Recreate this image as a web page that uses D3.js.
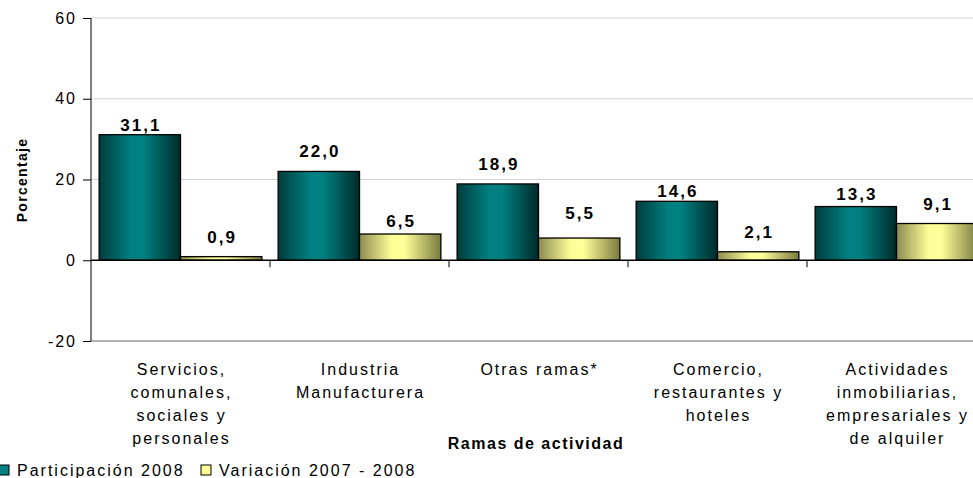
<!DOCTYPE html>
<html>
<head>
<meta charset="utf-8">
<script src="https://cdn.jsdelivr.net/npm/d3@7"></script>
<style>
  body { margin: 0; background: #fff; overflow: hidden; }
  svg { font-family: "Liberation Sans", Arial, sans-serif; }
</style>
</head>
<body>
<svg id="chart" width="973" height="478"></svg>
<script>
// categories (each label split into lines)
var categories = [
  ["Servicios,", "comunales,", "sociales y", "personales"],
  ["Industria", "Manufacturera"],
  ["Otras ramas*"],
  ["Comercio,", "restaurantes y", "hoteles"],
  ["Actividades", "inmobiliarias,", "empresariales y", "de alquiler"]
];
var participacion = [31.1, 22.0, 18.9, 14.6, 13.3];
var variacion = [0.9, 6.5, 5.5, 2.1, 9.1];
var seriesNames = ["Participación 2008", "Variación 2007 - 2008"];
var yTicks = [-20, 0, 20, 40, 60];

var svg = d3.select("#chart");
var pLeft = 91, pTop = 18, pBottom = 341, pRight = 986;
var ls = 2; // letter spacing used by the original renderer

var x = d3.scaleBand().domain(d3.range(categories.length)).range([pLeft, pRight]);
var xs = d3.scaleBand().domain([0, 1]).range([0, x.bandwidth()]).paddingOuter(0.1);
var y = d3.scaleLinear().domain([-20, 60]).range([pBottom, pTop]);

// gradients
var defs = svg.append("defs");
function grad(id, edge, mid, edge2) {
  var g = defs.append("linearGradient").attr("id", id).attr("x1", 0).attr("x2", 1).attr("y1", 0).attr("y2", 0);
  g.append("stop").attr("offset", "0%").attr("stop-color", edge);
  g.append("stop").attr("offset", "40%").attr("stop-color", mid);
  g.append("stop").attr("offset", "55%").attr("stop-color", mid);
  g.append("stop").attr("offset", "100%").attr("stop-color", edge2);
}
grad("gTeal", "#003d3d", "#008080", "#002a2a");
grad("gYellow", "#8c8c50", "#ffff99", "#7a7a40");

// grid lines
svg.append("g").selectAll("line").data(yTicks.filter(function(d){ return d !== 0; }))
  .enter().append("line")
  .attr("x1", pLeft).attr("x2", pRight)
  .attr("y1", function(d){ return y(d); }).attr("y2", function(d){ return y(d); })
  .attr("stroke", function(d){ return d === -20 ? "#9a9a9a" : "#d4d4d4"; })
  .attr("stroke-width", function(d){ return d === -20 ? 1.5 : 1; });

// bars
var data = [];
participacion.forEach(function(v, i){
  data.push({cat: i, s: 0, v: v});
  data.push({cat: i, s: 1, v: variacion[i]});
});
svg.append("g").selectAll("rect").data(data).enter().append("rect")
  .attr("x", function(d){ return x(d.cat) + xs(d.s); })
  .attr("width", xs.bandwidth())
  .attr("y", function(d){ return y(Math.max(0, d.v)); })
  .attr("height", function(d){ return Math.abs(y(d.v) - y(0)); })
  .attr("fill", function(d){ return d.s === 0 ? "url(#gTeal)" : "url(#gYellow)"; })
  .attr("stroke", "#000").attr("stroke-width", 1.3);

// value labels (gap above bar in px, as placed in the original)
var labelGap = [[4, 14, 14, 4, 7], [14, 7, 19, 14, 14]];
var fmt = function(v){ return v.toFixed(1).replace(".", ","); };
svg.append("g").selectAll("text").data(data).enter().append("text")
  .attr("x", function(d){ return x(d.cat) + xs(d.s) + xs.bandwidth() / 2 + 1; })
  .attr("y", function(d){ return y(d.v) - labelGap[d.s][d.cat]; })
  .attr("text-anchor", "middle")
  .attr("font-size", 17).attr("font-weight", "bold").attr("letter-spacing", 2)
  .text(function(d){ return fmt(d.v); });

// y axis
var yAxis = svg.append("g").attr("transform", "translate(" + pLeft + ",0)")
  .call(d3.axisLeft(y).tickValues(yTicks).tickFormat(function(d){ return String(d); })
    .tickSize(8).tickPadding(8));
yAxis.select(".domain").attr("stroke", "#000").attr("d", "M0," + pTop + "V" + pBottom);
yAxis.selectAll("line").attr("stroke", "#000");
yAxis.selectAll("text").attr("font-size", 16).attr("fill", "#000").attr("letter-spacing", ls)
  .attr("dx", ls).attr("font-family", "Liberation Sans, Arial, sans-serif");

// zero line with category ticks
var xAxis = svg.append("g").attr("transform", "translate(0," + y(0) + ")")
  .call(d3.axisBottom(x).tickValues([]).tickSizeOuter(0));
xAxis.select(".domain").attr("stroke", "#000").attr("stroke-width", 1.3).attr("d", "M" + pLeft + ",0H" + pRight);
xAxis.selectAll(".cat-tick").data(d3.range(1, categories.length)).enter().append("line")
  .attr("x1", function(i){ return x(i); }).attr("x2", function(i){ return x(i); })
  .attr("y1", 0).attr("y2", 7).attr("stroke", "#000");

// category labels
var cl = svg.append("g").selectAll("text").data(categories).enter().append("text")
  .attr("text-anchor", "middle").attr("font-size", 16).attr("letter-spacing", ls)
  .attr("x", function(d, i){ return x(i) + x.bandwidth() / 2 + ls / 2; })
  .attr("y", 375);
cl.selectAll("tspan").data(function(d){ return d; }).enter().append("tspan")
  .attr("x", function(){ return d3.select(this.parentNode).attr("x"); })
  .attr("dy", function(d, j){ return j === 0 ? 0 : 23; })
  .text(function(d){ return d; });

// axis titles
svg.append("text").attr("x", 536).attr("y", 449).attr("text-anchor", "middle")
  .attr("font-size", 16).attr("font-weight", "bold").attr("letter-spacing", 1.5).text("Ramas de actividad");
svg.append("text").attr("transform", "translate(27,180) rotate(-90)").attr("text-anchor", "middle")
  .attr("font-size", 14).attr("font-weight", "bold").attr("letter-spacing", 1.3).text("Porcentaje");

// legend
var lg = svg.append("g").attr("transform", "translate(0,476)");
var items = [{n: seriesNames[0], c: "#008080", x: -1}, {n: seriesNames[1], c: "#ffff99", x: 201}];
items.forEach(function(it){
  lg.append("rect").attr("x", it.x).attr("y", -11).attr("width", 10).attr("height", 10)
    .attr("fill", it.c).attr("stroke", "#000").attr("stroke-width", 1);
  lg.append("text").attr("x", it.x + 18).attr("y", 0).attr("font-size", 16).attr("letter-spacing", ls).text(it.n);
});
</script>
</body>
</html>
